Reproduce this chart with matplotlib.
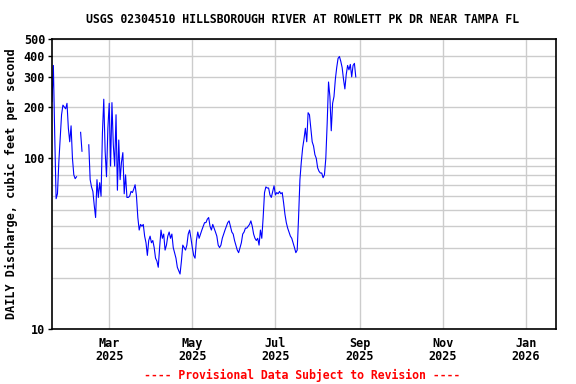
import numpy as np
import pandas as pd
import matplotlib
matplotlib.use("Agg")
import matplotlib.pyplot as plt
import matplotlib.dates as mdates
from matplotlib.ticker import FixedLocator, NullFormatter

title = "USGS 02304510 HILLSBOROUGH RIVER AT ROWLETT PK DR NEAR TAMPA FL"
ylabel = "DAILY Discharge, cubic feet per second"
footer = "---- Provisional Data Subject to Revision ----"

start_date = "2025-01-18"
nan = np.nan
# daily mean discharge, cfs
flow = [
    215, 350, 135, 58, 62, 95, 130, 180, 205, 200,
    195, 210, 150, 125, 155, 100, 80, 76, 78, nan,
    nan, 142, 110, nan, nan, 98, nan, 120, 75, 68,
    64, 53, 45, 75, 59, 72, 60, 140, 222, 110,
    78, 150, 210, 90, 212, 120, 90, 180, 65, 128,
    75, 95, 108, 62, 80, 59, 59, 60, 64, 63,
    66, 70, 60, 45, 38, 41, 40, 41, 35, 32,
    27, 33, 35, 32, 33, 30, 26, 25, 23, 30,
    38, 34, 36, 29, 31, 35, 37, 34, 36, 30,
    28, 26, 23, 22, 21, 25, 31, 30, 29, 31,
    36, 38, 34, 30, 27, 26, 33, 37, 34, 36,
    38, 40, 42, 42, 44, 45, 40, 38, 41, 39,
    37, 35, 31, 30, 31, 34, 36, 38, 40, 42,
    43, 40, 37, 36, 33, 31, 29, 28, 30, 32,
    36, 37, 39, 39, 40, 41, 43, 40, 36, 34,
    33, 34, 31, 38, 34, 45, 63, 68, 67, 67,
    61, 59, 64, 69, 61, 63, 62, 64, 62, 63,
    55, 47, 42, 39, 37, 35, 34, 32, 30, 28,
    29, 45, 75, 95, 115, 130, 150, 125, 185, 180,
    150, 125, 118, 105, 100, 88, 84, 82, 82, 77,
    80, 100, 160, 280, 230, 145, 210, 230, 290, 340,
    385, 395, 370, 340, 290, 255, 310, 350, 330, 355,
    300, 350, 360, 300,
]
dates = pd.date_range(start_date, periods=len(flow), freq="D")

month_ticks = ["2025-03-01", "2025-05-01", "2025-07-01", "2025-09-01", "2025-11-01", "2026-01-01"]
y_labels = [10, 100, 200, 300, 400, 500]
y_grid = [20, 30, 40, 50, 60, 70, 80, 90, 100, 200, 300, 400]

font = "DejaVu Sans Mono"

fig = plt.figure(figsize=(5.76, 3.84), dpi=100)
ax = fig.add_axes([0.0903, 0.1432, 0.875, 0.7552])

ax.plot(dates, flow, color="#0000FF", linewidth=0.8)

ax.set_yscale("log")
ax.set_ylim(10, 500)
ax.set_xlim(pd.Timestamp("2025-01-18"), pd.Timestamp("2026-01-23"))

ax.yaxis.set_major_locator(FixedLocator(y_labels))
ax.yaxis.set_minor_locator(FixedLocator(y_grid))
ax.yaxis.set_minor_formatter(NullFormatter())
ax.set_yticklabels([str(v) for v in y_labels], fontfamily=font, fontweight="bold", fontsize=8.5)
ax.tick_params(axis="y", which="major", length=3, width=1, pad=2)
ax.tick_params(axis="y", which="minor", length=0)

ax.set_xticks([pd.Timestamp(d) for d in month_ticks])
ax.xaxis.set_major_formatter(mdates.DateFormatter("%b\n%Y"))
for lab in ax.get_xticklabels():
    lab.set_fontfamily(font)
    lab.set_fontweight("bold")
    lab.set_fontsize(8.5)
    lab.set_linespacing(1.0)
ax.tick_params(axis="x", length=0, pad=6)

ax.grid(True, which="both", axis="y", color="#CCCCCC", linewidth=1)
ax.grid(True, which="major", axis="x", color="#CCCCCC", linewidth=1)
ax.set_axisbelow(True)
for s in ax.spines.values():
    s.set_linewidth(1.2)
    s.set_color("black")

ax.set_ylabel(ylabel, fontfamily=font, fontweight="bold", fontsize=8.5, labelpad=4)
fig.text(0.525, 0.95, title, ha="center", va="center", fontfamily=font,
         fontweight="bold", fontsize=8.3)
fig.text(0.525, 0.023, footer, ha="center", va="center", fontfamily=font,
         fontweight="bold", fontsize=8.3, color="red")

fig.savefig("out.png", dpi=100)
